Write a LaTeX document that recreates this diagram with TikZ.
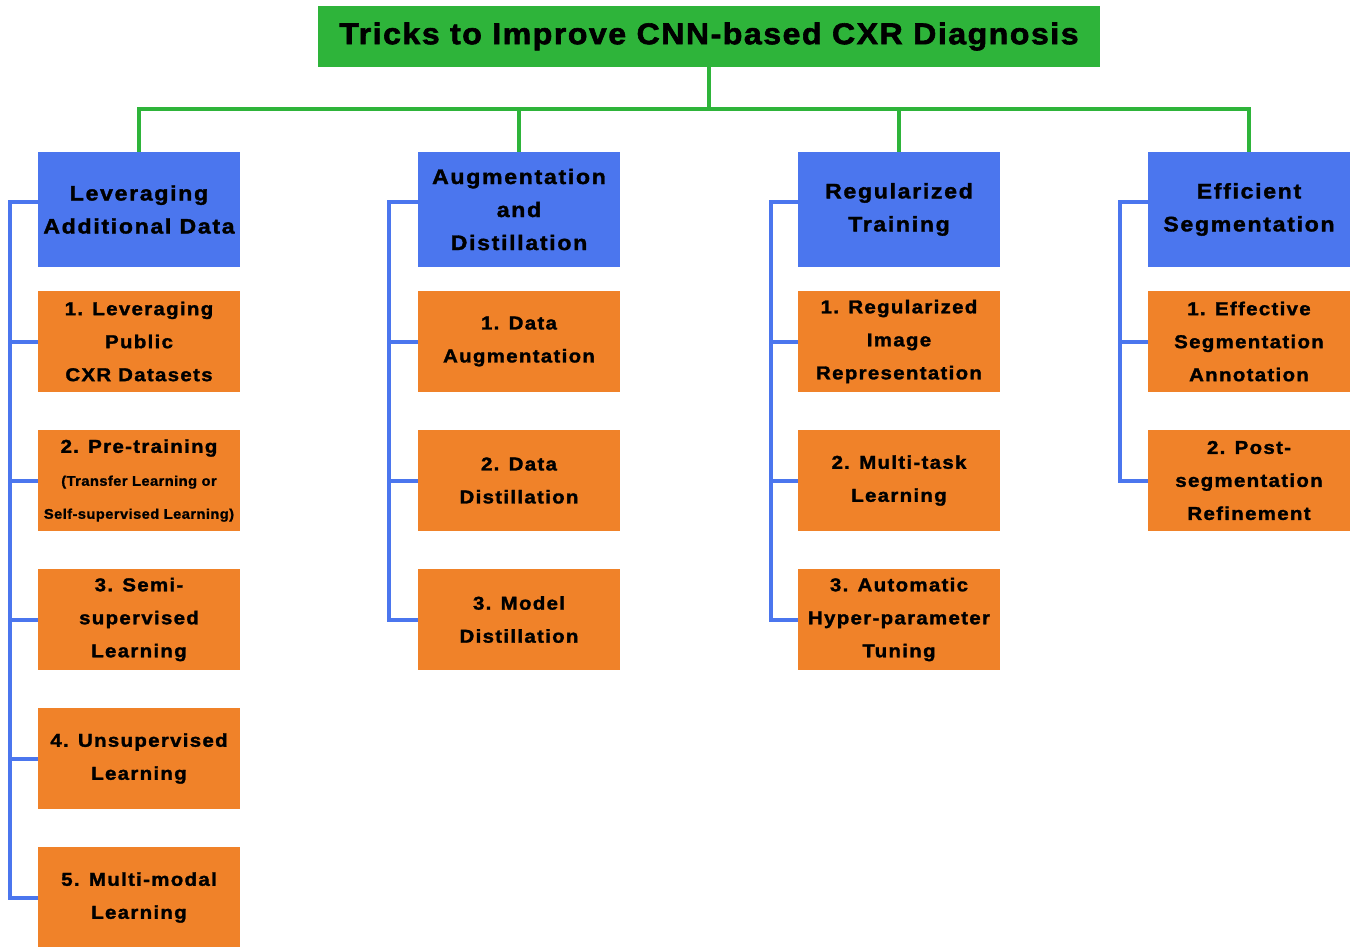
\documentclass[tikz,border=0pt]{standalone}
\usepackage{fontspec}
\setmainfont{Liberation Sans}
\newfontfamily\titlefont{Liberation Sans Bold}[LetterSpace=5, FakeStretch=1.07, FakeBold=2]
\newfontfamily\headfont{Liberation Sans Bold}[LetterSpace=8, FakeStretch=1.1, FakeBold=1.6]
\newfontfamily\itemfont{Liberation Sans Bold}[LetterSpace=7, FakeStretch=1.1, FakeBold=1.6]
\newfontfamily\smallfont{Liberation Sans Bold}[LetterSpace=3, FakeStretch=1.05, FakeBold=1.2]
\definecolor{cgreen}{HTML}{2EB43A}
\definecolor{cblue}{HTML}{4B76EE}
\definecolor{corange}{HTML}{F08229}
\tikzset{
  titlebox/.style={rectangle, fill=cgreen, minimum width=782pt, minimum height=61pt, inner sep=0pt,
    font=\titlefont\fontsize{30}{36}\selectfont, align=center},
  headbox/.style={rectangle, fill=cblue, minimum width=202pt, minimum height=115pt, inner sep=0pt,
    font=\headfont\fontsize{21}{33}\selectfont, align=center},
  itembox/.style={rectangle, fill=corange, minimum width=202pt, minimum height=101pt, inner sep=0pt,
    font=\itemfont\fontsize{18.6}{33}\selectfont, align=center},
  gline/.style={draw=cgreen, line width=4pt},
  bline/.style={draw=cblue, line width=4pt},
}
\begin{document}
\begin{tikzpicture}[x=1pt,y=-1pt]
\useasboundingbox (0,0) rectangle (1353,947);
\fill[white] (0,0) rectangle (1353,947);

% title
\node[titlebox] (title) at (709,36.5) {Tricks to Improve CNN-based CXR Diagnosis};

% headers
\node[headbox] (h1) at (139,209.5) {Leveraging\\Additional Data};
\node[headbox] (h2) at (519,209.5) {Augmentation\\and\\Distillation};
\node[headbox] (h3) at (899,209.5) {Regularized\\Training};
\node[headbox] (h4) at (1249,209.5) {Efficient\\Segmentation};

% column 1
\node[itembox] (a1) at (139,341.5) {1. Leveraging\\Public\\CXR Datasets};
\node[itembox] (a2) at (139,480.5) {2. Pre-training\\{\smallfont\fontsize{14}{33}\selectfont (Transfer Learning or}\\{\smallfont\fontsize{14}{33}\selectfont Self-supervised Learning)}};
\node[itembox] (a3) at (139,619.5) {3. Semi-\\supervised\\Learning};
\node[itembox] (a4) at (139,758.5) {4. Unsupervised\\Learning};
\node[itembox] (a5) at (139,897.5) {5. Multi-modal\\Learning};

% column 2
\node[itembox] (b1) at (519,341.5) {1. Data\\Augmentation};
\node[itembox] (b2) at (519,480.5) {2. Data\\Distillation};
\node[itembox] (b3) at (519,619.5) {3. Model\\Distillation};

% column 3
\node[itembox] (c1) at (899,341.5) {1. Regularized\\Image\\Representation};
\node[itembox] (c2) at (899,480.5) {2. Multi-task\\Learning};
\node[itembox] (c3) at (899,619.5) {3. Automatic\\Hyper-parameter\\Tuning};

% column 4
\node[itembox] (d1) at (1249,341.5) {1. Effective\\Segmentation\\Annotation};
\node[itembox] (d2) at (1249,480.5) {2. Post-\\segmentation\\Refinement};

% green tree
\coordinate (bus) at (709,109);
\draw[gline] (title.south) -- (bus);
\draw[gline] (h1.north) |- (bus) -| (h4.north);
\draw[gline] (h2.north) -- (h2.north |- bus);
\draw[gline] (h3.north) -- (h3.north |- bus);

% blue rails
\coordinate (r1) at (10,0);
\coordinate (r2) at (389,0);
\coordinate (r3) at (771,0);
\coordinate (r4) at (1120,0);

\draw[bline] ([yshift=7.5pt]h1.west) -| (r1 |- a5) -- (a5.west);
\foreach \n in {a1,a2,a3,a4} \draw[bline] (r1 |- \n) -- (\n.west);

\draw[bline] ([yshift=7.5pt]h2.west) -| (r2 |- b3) -- (b3.west);
\foreach \n in {b1,b2} \draw[bline] (r2 |- \n) -- (\n.west);

\draw[bline] ([yshift=7.5pt]h3.west) -| (r3 |- c3) -- (c3.west);
\foreach \n in {c1,c2} \draw[bline] (r3 |- \n) -- (\n.west);

\draw[bline] ([yshift=7.5pt]h4.west) -| (r4 |- d2) -- (d2.west);
\draw[bline] (r4 |- d1) -- (d1.west);
\end{tikzpicture}
\end{document}
